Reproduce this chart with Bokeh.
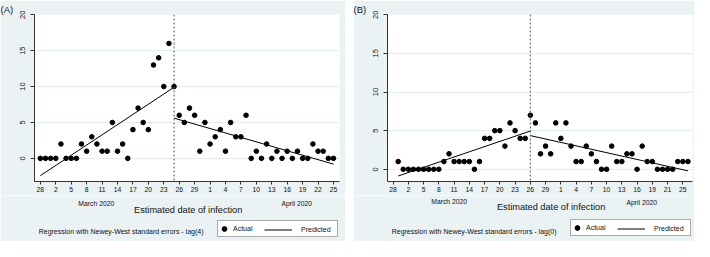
from bokeh.plotting import figure
from bokeh.layouts import row, column
from bokeh.models import Range1d, Span, Label, Legend, LegendItem, FixedTicker
from bokeh.embed import file_html
from bokeh.resources import INLINE

# ---------------- data (day index 0 = 28 Feb 2020) ----------------
tick_days = [0, 3, 6, 9, 12, 15, 18, 21, 24, 27, 30, 33, 36, 39, 42, 45, 48, 51, 54, 57]
tick_labels_a = ["28", "2", "5", "8", "11", "14", "17", "20", "23", "26", "29",
                 "1", "4", "7", "10", "13", "16", "19", "22", "25"]
tick_labels_b = ["28", "2", "5", "8", "11", "14", "17", "20", "23", "26", "29",
                 "1", "4", "7", "10", "13", "16", "19", "21", "25"]
y_ticks = [0, 5, 10, 15, 20]

# Panel A: lag(4)
days_a = list(range(0, 58))
actual_a = [0, 0, 0, 0, 2, 0, 0, 0, 2, 1,
            3, 2, 1, 1, 5, 1, 2, 0, 4, 7,
            5, 4, 13, 14, 10, 16, 10, 6, 5, 7,
            6, 1, 5, 2, 3, 4, 1, 5, 3, 3,
            6, 0, 1, 0, 2, 0, 1, 0, 1, 0,
            1, 0, 0, 2, 1, 1, 0, 0]
pred_a_pre_x = [0, 26]
pred_a_pre_y = [-2.4, 9.9]
pred_a_post_x = [26, 57]
pred_a_post_y = [5.6, -0.8]
break_a = 26

# Panel B: lag(0)
days_b = list(range(1, 59))
actual_b = [1, 0, 0, 0, 0, 0, 0, 0, 0,
            1, 2, 1, 1, 1, 1, 0, 1,
            4, 4, 5, 5, 3, 6, 5, 4, 4,
            7, 6, 2, 3, 2, 6, 4, 6, 3, 1,
            1, 3, 2, 1, 0, 0, 3, 1, 1, 2,
            2, 0, 3, 1, 1, 0, 0, 0, 0, 1,
            1, 1]
pred_b_pre_x = [1, 27]
pred_b_pre_y = [-0.87, 4.95]
pred_b_post_x = [27, 58]
pred_b_post_y = [4.36, -0.2]
break_b = 27

month_labels = ["March 2020", "April 2020"]
x_title = "Estimated date of infection"
legend_labels = ["Actual", "Predicted"]

# ---------------- styling ----------------
BG = "#EAF2F3"
FONT = "Liberation Sans"
TXT = "#111111"
AX = "#333333"
FW = 305
TOP = 14
FH = 167
BOT = 14
PH = TOP + FH + BOT      # plot figure height (195)
FOOT = 241 - PH          # footer height (46)
SHIFT = 32               # empirical horizontal correction for footer texts


def plot_panel(width, left, days, actual, px1, py1, px2, py2, brk, xr, yr,
               labels, tag):
    right = width - left - FW
    p = figure(frame_width=FW, frame_height=FH,
               min_border_left=left, min_border_right=right,
               min_border_top=TOP, min_border_bottom=BOT,
               x_range=Range1d(*xr), y_range=Range1d(*yr),
               output_backend="svg", toolbar_location=None,
               background_fill_color="white", border_fill_color=BG,
               outline_line_color=None, title=tag)
    p.title.align = "left"
    p.title.offset = -left
    p.title.standoff = 0
    p.title.text_font = FONT
    p.title.text_font_size = "9.5px"
    p.title.text_font_style = "normal"
    p.title.text_color = TXT

    p.xaxis.ticker = FixedTicker(ticks=tick_days)
    p.xaxis.major_label_overrides = {d: l for d, l in zip(tick_days, labels)}
    p.xaxis.minor_tick_line_color = None
    p.xaxis.major_tick_out = 3
    p.xaxis.major_tick_in = 0
    p.xaxis.major_label_standoff = 2
    p.xaxis.major_label_text_font = FONT
    p.xaxis.major_label_text_font_size = "6.8px"
    p.xaxis.major_label_text_color = TXT
    p.xaxis.axis_line_color = AX
    p.xaxis.major_tick_line_color = AX

    p.yaxis.ticker = FixedTicker(ticks=y_ticks)
    p.yaxis.major_label_orientation = "vertical"
    p.yaxis.minor_tick_line_color = None
    p.yaxis.major_tick_out = 4
    p.yaxis.major_tick_in = 0
    p.yaxis.major_label_standoff = 5
    p.yaxis.major_label_text_font = FONT
    p.yaxis.major_label_text_font_size = "7.5px"
    p.yaxis.major_label_text_color = TXT
    p.yaxis.axis_line_color = AX
    p.yaxis.major_tick_line_color = AX

    p.xgrid.visible = False
    p.ygrid.grid_line_color = "#E3ECEE"
    p.ygrid.grid_line_width = 1

    p.add_layout(Span(location=brk, dimension="height", line_color="#555555",
                      line_width=1, line_dash="2 2"))

    p.scatter(days, actual, size=4.6, fill_color="black", line_color="black")
    p.line(px1, py1, line_color="black", line_width=1)
    p.line(px2, py2, line_color="black", line_width=1)
    return p


def footer_panel(width, reg_text, pos):
    f = figure(frame_width=width, frame_height=FOOT,
               min_border_left=0, min_border_right=0,
               min_border_top=0, min_border_bottom=0,
               x_range=Range1d(0, width), y_range=Range1d(0, FOOT),
               x_axis_type=None, y_axis_type=None,
               output_backend="svg", toolbar_location=None,
               background_fill_color=BG, border_fill_color=BG,
               outline_line_color=None)
    f.grid.visible = False

    def put(X, Y, text, size, align):
        f.add_layout(Label(x=X - SHIFT, y=FOOT - Y, x_units="screen", y_units="screen",
                           text=text, text_font=FONT, text_font_size=size,
                           text_color=TXT, text_align=align,
                           text_baseline="middle"))

    put(pos["march"][0], pos["march"][1], month_labels[0], "6.8px", "center")
    put(pos["april"][0], pos["april"][1], month_labels[1], "6.8px", "center")
    put(pos["est"][0], pos["est"][1], x_title, "9.2px", "center")
    put(36.2, 35.7, reg_text, "7px", "left")

    nan = float("nan")
    sc = f.scatter(x=[nan], y=[nan], size=4.6, fill_color="black", line_color="black")
    ln = f.line(x=[nan, nan], y=[nan, nan], line_color="black", line_width=1)

    box_l, box_b = pos["box"]
    legA = Legend(items=[LegendItem(label=legend_labels[0], renderers=[sc])],
                  location=(box_l, FOOT - box_b), orientation="horizontal",
                  glyph_width=12, glyph_height=15, label_height=15, label_width=104,
                  label_standoff=3, padding=0, margin=0, spacing=0,
                  border_line_color="#555555", border_line_width=1,
                  background_fill_color="white", background_fill_alpha=1,
                  label_text_font=FONT, label_text_font_size="7px",
                  label_text_color=TXT)
    legB = Legend(items=[LegendItem(label=legend_labels[1], renderers=[ln])],
                  location=(box_l + 47, FOOT - box_b), orientation="horizontal",
                  glyph_width=28, glyph_height=15, label_height=15,
                  label_standoff=9, padding=0, margin=0, spacing=0,
                  border_line_color=None, background_fill_alpha=0,
                  label_text_font=FONT, label_text_font_size="7px",
                  label_text_color=TXT)
    f.add_layout(legA)
    f.add_layout(legB)
    return f


pa = plot_panel(345, 34, days_a, actual_a, pred_a_pre_x, pred_a_pre_y,
                pred_a_post_x, pred_a_post_y, break_a, (-1.14, 58.17), (-3.22, 20.03),
                tick_labels_a, "(A)")
fa = footer_panel(345, "Regression with Newey-West standard errors - lag(4)",
                  {"march": (93.8, 8.2), "april": (294.2, 8.2), "est": (185.7, 14.8),
                   "box": (217, 42.2)})

pb = plot_panel(341, 34, days_b, actual_b, pred_b_pre_x, pred_b_pre_y,
                pred_b_post_x, pred_b_post_y, break_b, (-1.1, 58.9), (-1.58, 20.03),
                tick_labels_b, "(B)")
fb = footer_panel(341, "Regression with Newey-West standard errors - lag(0)",
                  {"march": (93.7, 6.0), "april": (286.3, 6.6), "est": (195.6, 11.0),
                   "box": (217, 41.3)})

layout = row(column(pa, fa, spacing=0), column(pb, fb, spacing=0), spacing=8)
open("out.html", "w").write(file_html(layout, INLINE))
